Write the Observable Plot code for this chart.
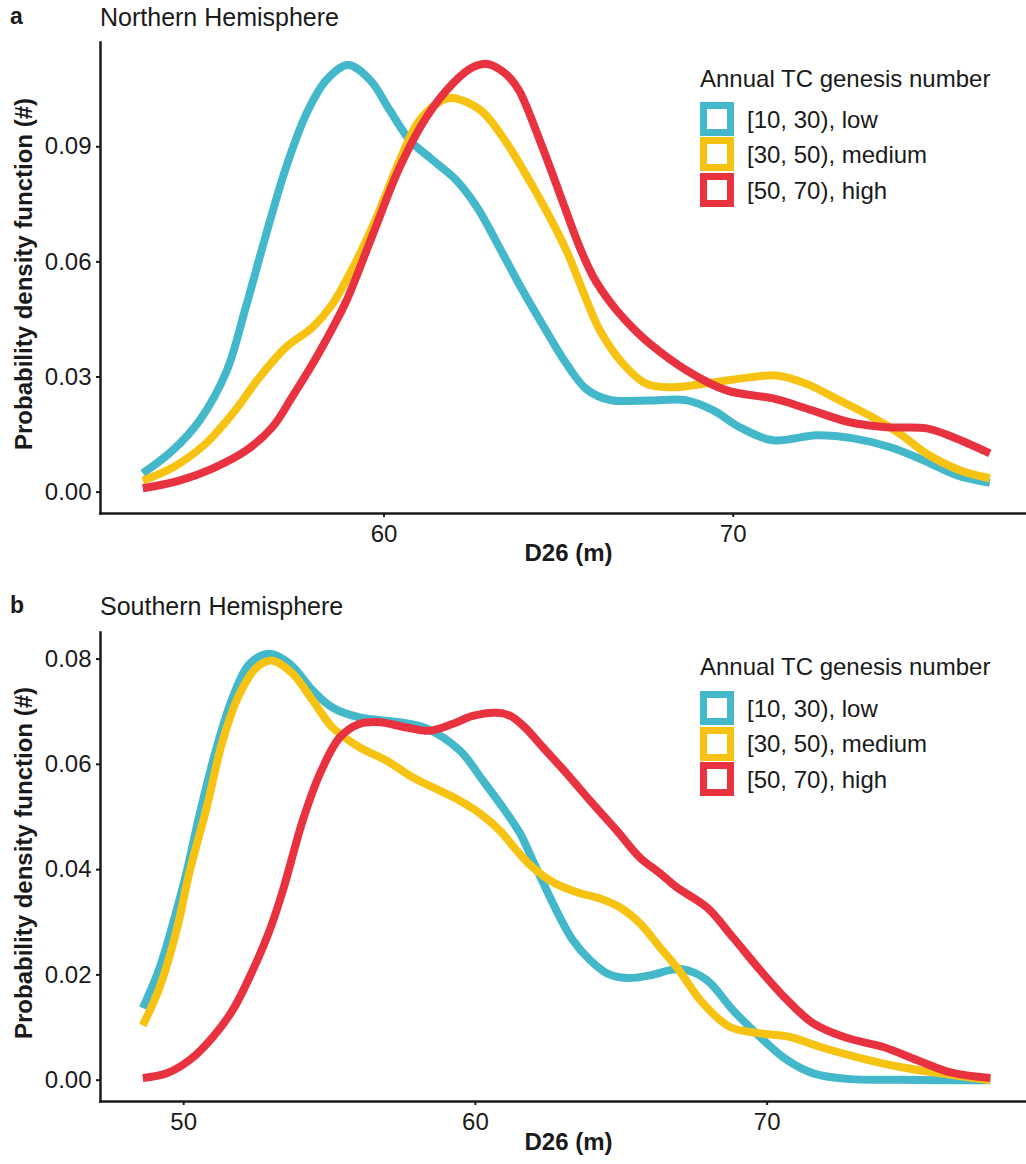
<!DOCTYPE html>
<html>
<head>
<meta charset="utf-8">
<script src="https://cdn.jsdelivr.net/npm/d3@7"></script>
<script src="https://cdn.jsdelivr.net/npm/@observablehq/plot@0.6"></script>
<style>
  body { margin: 0; background: #fff; font-family: "Liberation Sans", Arial, Helvetica, sans-serif; color: #1a1a1a; }
  #root { width: 1026px; }
  .panel { position: relative; width: 1026px; }
  .abs { position: absolute; white-space: nowrap; }
  .tag { font-weight: bold; font-size: 23px; line-height: 23px; left: 10px; }
  .ttl { font-size: 25px; line-height: 25px; left: 100px; }
  .lt { font-size: 24px; line-height: 24px; left: 700px; }
  .lab { font-size: 24px; line-height: 24px; left: 747px; }
  .sq { left: 700px; width: 34px; height: 34px; box-sizing: border-box; border: 7px solid; background: #fff; }
  .plotbox { position: absolute; left: 0; }
</style>
</head>
<body>
<div id="root"></div>
<script>
// ---------- data ----------
const groups = ["[10, 30), low", "[30, 50), medium", "[50, 70), high"];
const colors = ["#43b8cb", "#f7c313", "#e8323f"];
const legendTitle = "Annual TC genesis number";
const xTitle = "D26 (m)";
const yTitle = "Probability density function (#)";

// Northern Hemisphere  [D26, density]
const nhLow = [[53.09,0.0049],[53.95,0.0109],[54.72,0.0187],[55.49,0.0315],[56.03,0.0478],[56.63,0.0674],[57.2,0.0848],[57.78,0.0987],[58.35,0.1074],[58.97,0.1113],[59.6,0.1074],[60.16,0.0996],[60.74,0.0917],[61.4,0.0865],[62.07,0.0813],[62.66,0.0743],[63.32,0.0635],[63.85,0.0545],[64.55,0.0435],[65.22,0.0335],[65.8,0.0268],[66.47,0.024],[67.6,0.0239],[68.67,0.0239],[69.43,0.0213],[70.19,0.0169],[71.14,0.0135],[72.39,0.0148],[73.44,0.014],[74.5,0.0117],[75.45,0.0083],[76.4,0.0044],[77.35,0.0024]];
const nhMedium = [[53.09,0.003],[53.95,0.0064],[54.9,0.0127],[55.66,0.0204],[56.44,0.03],[57.2,0.0378],[57.96,0.043],[58.5,0.0487],[59.12,0.0587],[59.79,0.0717],[60.45,0.0865],[61.02,0.097],[61.69,0.1022],[61.98,0.1027],[62.76,0.0996],[63.4,0.0925],[64.27,0.0795],[65.22,0.063],[65.8,0.05],[66.18,0.0422],[66.84,0.0335],[67.52,0.0282],[68.27,0.0273],[69.43,0.0286],[70.48,0.0299],[71.25,0.0304],[72.1,0.0282],[73.05,0.0239],[73.99,0.0195],[74.77,0.0152],[75.54,0.01],[76.49,0.0057],[77.35,0.0036]];
const nhHigh = [[53.09,0.001],[54.14,0.003],[55.1,0.0062],[56.06,0.0109],[56.8,0.0169],[57.37,0.0248],[57.96,0.0335],[58.54,0.043],[58.93,0.05],[59.69,0.0674],[60.45,0.0847],[61.22,0.0978],[61.98,0.1066],[62.56,0.1108],[62.96,0.1116],[63.31,0.1102],[63.62,0.1078],[63.89,0.1043],[64.46,0.0917],[65.03,0.0778],[65.6,0.0639],[66.0,0.056],[66.37,0.0508],[66.66,0.0474],[67.1,0.043],[67.61,0.0387],[68.67,0.0317],[69.81,0.0265],[71.14,0.0244],[72.1,0.0218],[73.34,0.0182],[74.4,0.0169],[75.54,0.0166],[76.3,0.0143],[77.35,0.0101]];

// Southern Hemisphere  [D26, density]
const shLow = [[48.6,0.0137],[49.18,0.0214],[49.76,0.0323],[50.1,0.0395],[50.55,0.0506],[51.13,0.0632],[51.68,0.0727],[52.26,0.0791],[52.95,0.081],[53.64,0.0791],[54.43,0.074],[55.1,0.0708],[56.04,0.0689],[57.41,0.068],[58.34,0.0668],[59.47,0.0626],[60.26,0.0569],[60.94,0.0518],[61.53,0.0469],[61.97,0.0417],[62.45,0.036],[62.9,0.0309],[63.34,0.0266],[63.93,0.0228],[64.51,0.0203],[65.2,0.0194],[65.99,0.0199],[66.67,0.0209],[67.1,0.0211],[67.94,0.019],[68.83,0.0133],[69.76,0.0082],[70.69,0.0038],[71.58,0.0013],[72.85,0.0002],[74.5,0.0001],[76.0,0.0],[77.65,0.0]];
const shMedium = [[48.6,0.0104],[49.18,0.0177],[49.76,0.0285],[50.2,0.0395],[50.79,0.0518],[51.34,0.0645],[51.92,0.0734],[52.5,0.0784],[53.05,0.0797],[53.74,0.0772],[54.43,0.0721],[55.1,0.067],[56.04,0.0632],[56.96,0.0607],[57.86,0.0575],[58.78,0.055],[59.47,0.0531],[60.15,0.0507],[60.84,0.0474],[61.42,0.0436],[61.97,0.0404],[62.66,0.0376],[63.48,0.0357],[64.27,0.0345],[64.96,0.0328],[65.64,0.0298],[66.33,0.0252],[66.91,0.0214],[67.8,0.0146],[68.73,0.0101],[69.76,0.0089],[70.79,0.0082],[71.82,0.0063],[73.2,0.0042],[74.56,0.0025],[75.93,0.0013],[77.65,0.0]];
const shHigh = [[48.6,0.0004],[49.42,0.0013],[50.2,0.0038],[51.0,0.0082],[51.68,0.0133],[52.37,0.0209],[52.95,0.0285],[53.4,0.036],[54.08,0.0493],[54.67,0.0582],[55.35,0.0651],[56.04,0.0677],[56.72,0.068],[57.65,0.067],[58.44,0.0664],[59.23,0.0677],[59.91,0.0692],[60.74,0.0698],[61.2,0.0692],[61.7,0.067],[62.32,0.0632],[63.14,0.0582],[63.93,0.0531],[64.85,0.0474],[65.64,0.0423],[66.33,0.0393],[66.91,0.0366],[67.94,0.0328],[68.83,0.0271],[69.76,0.0209],[70.69,0.0152],[71.58,0.0108],[72.75,0.008],[73.98,0.0063],[75.15,0.0038],[76.28,0.0015],[77.65,0.0004]];

const nhXTicks = [60, 70];
const nhYTicks = [0, 0.03, 0.06, 0.09];
const shXTicks = [50, 60, 70];
const shYTicks = [0, 0.02, 0.04, 0.06, 0.08];

// ---------- build ----------
function toRows(series) {
  const rows = [];
  series.forEach((s, i) => s.forEach(([x, y]) => rows.push({x, y, group: groups[i]})));
  return rows;
}

function makePlot(rows, o) {
  const ymax = d3.max(rows, d => d.y);
  return Plot.plot({
    width: 1026,
    height: o.height,
    marginLeft: 100, marginRight: 0, marginTop: 6, marginBottom: o.marginBottom,
    x: {domain: o.xDomain},
    y: {domain: [-0.05 * ymax, 1.05 * ymax]},
    color: {domain: groups, range: colors},
    style: {fontFamily: "'Liberation Sans', Arial, Helvetica, sans-serif", color: "#1a1a1a", background: "transparent", overflow: "visible"},
    marks: [
      Plot.axisY(o.yTicks, {tickFormat: d3.format(".2f"), tickSize: 4, tickPadding: 5, fontSize: 24, strokeWidth: 2, label: null}),
      Plot.axisX(o.xTicks, {tickFormat: d3.format("d"), tickSize: 4, tickPadding: 7, fontSize: 24, strokeWidth: 2, label: null}),
      Plot.line(rows, {x: "x", y: "y", stroke: "group", strokeWidth: 8, curve: "catmull-rom", strokeLinecap: "butt", strokeLinejoin: "round"}),
      Plot.frame({anchor: "left", strokeWidth: 2.5, strokeLinecap: "square"}),
      Plot.frame({anchor: "bottom", strokeWidth: 2.5, strokeLinecap: "square"}),
      Plot.text([yTitle], {text: d => d, frameAnchor: "left", textAnchor: "middle", rotate: -90, dx: -76, dy: -4, fontSize: 24, fontWeight: "bold"}),
      Plot.text([xTitle], {text: d => d, frameAnchor: "bottom", textAnchor: "middle", dx: 5, dy: o.xTitleDy, fontSize: 24, fontWeight: "bold"})
    ]
  });
}

function baselineTop(b, fs) { return b - 0.8465 * fs; }

function addText(parent, cls, txt, baseline, fs) {
  const d = document.createElement("div");
  d.className = "abs " + cls;
  d.textContent = txt;
  d.style.top = baselineTop(baseline, fs) + "px";
  parent.appendChild(d);
}

function buildPanel(o) {
  const p = document.createElement("div");
  p.className = "panel";
  p.style.height = o.panelHeight + "px";
  document.getElementById("root").appendChild(p);
  const box = document.createElement("div");
  box.className = "plotbox";
  box.style.top = o.plotTop + "px";
  box.appendChild(makePlot(o.rows, o));
  p.appendChild(box);
  addText(p, "tag", o.tag, o.tagBase, 23);
  addText(p, "ttl", o.title, o.titleBase, 25);
  addText(p, "lt", legendTitle, o.legTitleBase, 24);
  groups.forEach((g, i) => {
    const s = document.createElement("div");
    s.className = "abs sq";
    s.style.borderColor = colors[i];
    s.style.top = (o.sqTop + i * 35.5) + "px";
    p.appendChild(s);
    addText(p, "lab", g, o.labBase + i * 35.5, 24);
  });
}

buildPanel({
  tag: "a", title: "Northern Hemisphere", tagBase: 24, titleBase: 26,
  panelHeight: 580, plotTop: 36, height: 544, marginBottom: 67, xTitleDy: 47,
  rows: toRows([nhLow, nhMedium, nhHigh]),
  xDomain: [51.88, 78.40], xTicks: nhXTicks, yTicks: nhYTicks,
  legTitleBase: 87, sqTop: 101.5, labBase: 128
});

buildPanel({
  tag: "b", title: "Southern Hemisphere", tagBase: 33, titleBase: 35,
  panelHeight: 584, plotTop: 46, height: 538, marginBottom: 63, xTitleDy: 48,
  rows: toRows([shLow, shMedium, shHigh]),
  xDomain: [47.15, 78.89], xTicks: shXTicks, yTicks: shYTicks,
  legTitleBase: 95, sqTop: 111, labBase: 137
});
</script>
</body>
</html>
